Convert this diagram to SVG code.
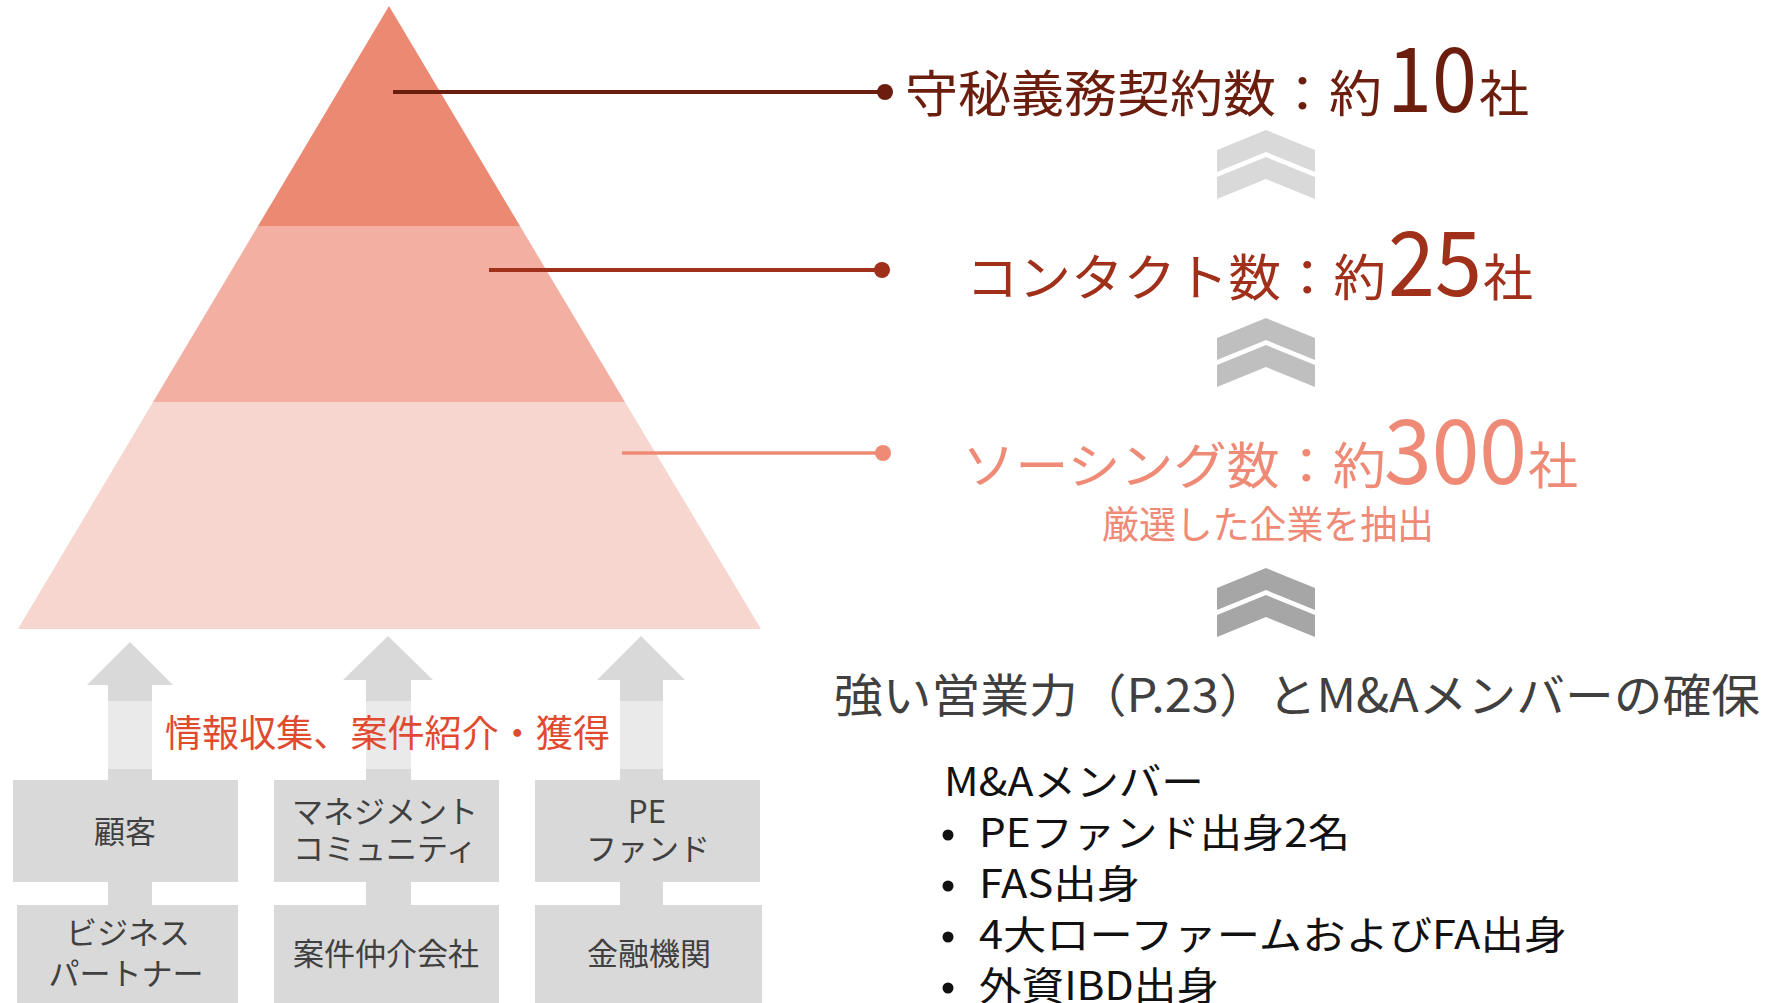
<svg xmlns="http://www.w3.org/2000/svg" width="1773" height="1003" viewBox="0 0 1773 1003">
<style>
  text { font-family: "Noto Sans CJK JP", "Noto Sans", sans-serif; }
  .box { fill: #D9D9D9; }
  .boxt { font-size: 31px; fill: #404040; text-anchor: middle; }
  .arr { fill: #D9D9D9; }
  .r1 { fill: #6B1E0E; }
  .r2 { fill: #A0301A; }
  .r3 { fill: #EE8A75; }
  .big { font-size: 90px; }
  .mid { font-size: 50px; }
  .list { font-size: 39px; fill: #111111; }
</style>
<defs>
  <polygon id="chev" points="0,20 49,0 98,20 98,42 49,22 0,42"/>
</defs>
<rect width="1773" height="1003" fill="#FFFFFF"/>

<g id="pyramid">
  <polygon id="tier-top" points="389,6 520,226 258,226" fill="#EB8973"/>
  <polygon id="tier-mid" points="258,226 520,226 625,402 153,402" fill="#F2AFA2"/>
  <polygon id="tier-bottom" points="153,402 625,402 761,629 18,629" fill="#F7D6CF"/>
</g>

<g id="connectors">
  <line x1="393" y1="92" x2="885" y2="92" stroke="#6B1E0E" stroke-width="4"/>
  <circle cx="885" cy="92" r="8" fill="#6B1E0E"/>
  <line x1="489" y1="270" x2="882" y2="270" stroke="#A0301A" stroke-width="4"/>
  <circle cx="882" cy="270" r="8" fill="#A0301A"/>
  <line x1="622" y1="453" x2="883" y2="453" stroke="#EE8A75" stroke-width="3.5"/>
  <circle cx="883" cy="453" r="8" fill="#EE8A75"/>

  <g id="chevrons-1" fill="#D9D9D9">
    <use href="#chev" x="1217" y="130"/>
    <use href="#chev" x="1217" y="157"/>
  </g>
  <g id="chevrons-2" fill="#BFBFBF">
    <use href="#chev" x="1217" y="318"/>
    <use href="#chev" x="1217" y="345"/>
  </g>
  <g id="chevrons-3" fill="#A6A6A6">
    <use href="#chev" x="1217" y="568"/>
    <use href="#chev" x="1217" y="595"/>
  </g>

  <g id="up-arrows">
    <polygon class="arr" points="130,642 173,685 152,685 152,905 108,905 108,685 87,685"/>
    <polygon class="arr" points="388,636 433,680 411,680 411,905 366,905 366,680 343,680"/>
    <polygon class="arr" points="641,636 685,680 663,680 663,905 620,905 620,680 597,680"/>
  </g>
</g>

<g id="label-nda">
  <text class="r1 mid" x="905" y="112" textLength="477" lengthAdjust="spacingAndGlyphs">守秘義務契約数：約</text>
  <text class="r1 big" x="1387" y="112" textLength="90" lengthAdjust="spacingAndGlyphs">10</text>
  <text class="r1 mid" x="1479" y="112">社</text>
</g>
<g id="label-contact">
  <text class="r2 mid" x="966" y="296" textLength="420" lengthAdjust="spacingAndGlyphs">コンタクト数：約</text>
  <text class="r2 big" x="1388" y="296" textLength="94" lengthAdjust="spacingAndGlyphs">25</text>
  <text class="r2 mid" x="1483" y="296">社</text>
</g>
<g id="label-sourcing">
  <text class="r3 mid" x="962" y="484" textLength="424" lengthAdjust="spacingAndGlyphs">ソーシング数：約</text>
  <text class="r3 big" x="1384" y="484" textLength="143" lengthAdjust="spacingAndGlyphs">300</text>
  <text class="r3 mid" x="1528" y="484">社</text>
  <text class="r3" x="1102" y="538" font-size="38" textLength="332" lengthAdjust="spacingAndGlyphs">厳選した企業を抽出</text>
</g>

<g id="label-sales">
  <text x="834" y="712" font-size="46" fill="#404040" textLength="926" lengthAdjust="spacingAndGlyphs">強い営業力（P.23）とM&amp;Aメンバーの確保</text>
</g>

<g id="members">
  <text class="list" x="944" y="796" textLength="260" lengthAdjust="spacingAndGlyphs">M&amp;Aメンバー</text>
  <g id="bullets" fill="#111111">
    <circle cx="948" cy="835" r="5.5"/>
    <circle cx="948" cy="886" r="5.5"/>
    <circle cx="948" cy="937" r="5.5"/>
    <circle cx="948" cy="988" r="5.5"/>
  </g>
  <text class="list" x="979" y="847" textLength="371" lengthAdjust="spacingAndGlyphs">PEファンド出身2名</text>
  <text class="list" x="979" y="898" textLength="161" lengthAdjust="spacingAndGlyphs">FAS出身</text>
  <text class="list" x="979" y="949" textLength="588" lengthAdjust="spacingAndGlyphs">4大ローファームおよびFA出身</text>
  <text class="list" x="979" y="1000" textLength="240" lengthAdjust="spacingAndGlyphs">外資IBD出身</text>
</g>

<g id="source-boxes">
  <g id="box-customer"><rect class="box" x="13" y="780" width="225" height="102"/><text class="boxt" x="125" y="843">顧客</text></g>
  <g id="box-management"><rect class="box" x="274" y="780" width="225" height="102"/><text class="boxt" x="385" y="823">マネジメント</text><text class="boxt" x="385" y="860">コミュニティ</text></g>
  <g id="box-pe"><rect class="box" x="535" y="780" width="225" height="102"/><text class="boxt" x="647" y="823">PE</text><text class="boxt" x="648" y="860">ファンド</text></g>
  <g id="box-partner"><rect class="box" x="17" y="905" width="221" height="98"/><text class="boxt" x="128" y="944">ビジネス</text><text class="boxt" x="126" y="985">パートナー</text></g>
  <g id="box-broker"><rect class="box" x="274" y="905" width="225" height="98"/><text class="boxt" x="386" y="965">案件仲介会社</text></g>
  <g id="box-bank"><rect class="box" x="535" y="905" width="227" height="98"/><text class="boxt" x="649" y="965">金融機関</text></g>
</g>

<g id="label-collect">
  <rect x="95" y="701" width="590" height="68" fill="#FFFFFF" fill-opacity="0.45"/>
  <text x="165" y="747" font-size="37" fill="#E04B30" textLength="445" lengthAdjust="spacingAndGlyphs">情報収集、案件紹介・獲得</text>
</g>
</svg>
